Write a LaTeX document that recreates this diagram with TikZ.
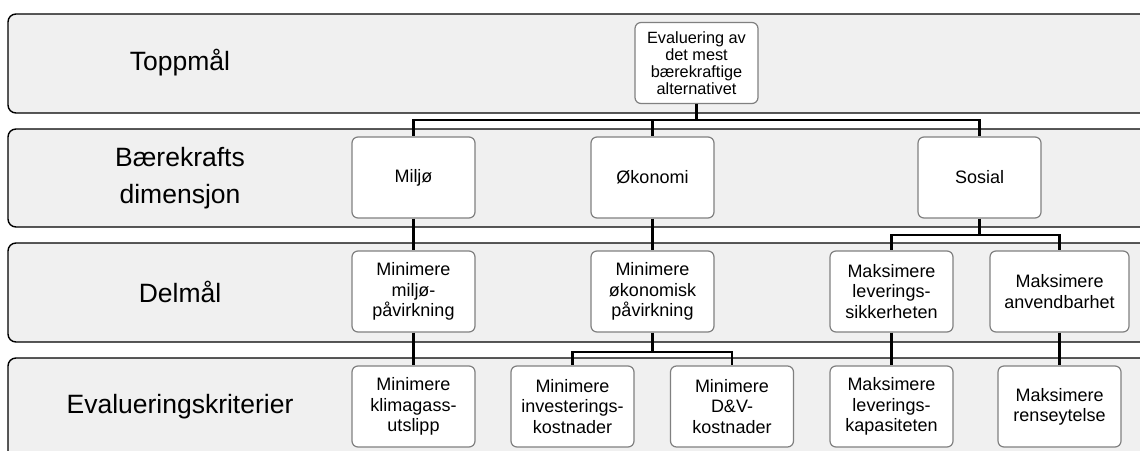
\documentclass[tikz,border=0pt]{standalone}
\usepackage{fontspec}
\setmainfont{Liberation Sans}
\usepackage{xcolor}
\usepackage{tikz}
\usetikzlibrary{
  positioning,
  calc
}
\definecolor{BandGray}{RGB}{240, 240, 240}
\definecolor{BoxLine}{RGB}{128, 128, 128}
\tikzset{
    band/.style={draw=black, line width=1.4pt, fill=BandGray, rounded corners=8pt},
    levellabel/.style={font=\fontsize{26.5}{37}\selectfont, align=center},
    critbox/.style={draw=BoxLine, line width=1.2pt, fill=white, rounded corners=6pt,
        minimum width=123pt, minimum height=81pt, inner sep=2pt, align=center,
        font=\fontsize{18}{20.2}\selectfont},
    conn/.style={draw=black, line width=2.6pt}
}

\begin{document}
\begin{tikzpicture}[x=1pt, y=-1pt]
    \useasboundingbox (0,0) rectangle (1140,450);
    \clip (0,0) rectangle (1140,450);
    % levels
    \draw[band] (8,14) rectangle (1180,113);
    \draw[band] (8,129) rectangle (1180,227);
    \draw[band] (8,243) rectangle (1180,342);
    \draw[band] (8,358) rectangle (1180,480);
    \node[levellabel] (lvlTop) at (180,63) {Toppmål};
    \node[levellabel] (lvlDim) at (180,178) {Bærekrafts\\dimensjon};
    \node[levellabel] (lvlSub) at (180,292) {Delmål};
    \node[levellabel] (lvlCrit) at (180,407) {Evalueringskriterier};
    % boxes
    \node[critbox, font=\fontsize{16.3}{16.8}\selectfont] (top) at (696.5,63) {Evaluering av\\det mest\\bærekraftige\\alternativet};
    \node[critbox] (miljo) at (413.5,177.5) {Miljø};
    \node[critbox] (okonomi) at (652.5,177.5) {Økonomi};
    \node[critbox] (sosial) at (979.5,177.5) {Sosial};
    \node[critbox] (minMiljo) at (413.5,291.5) {Minimere\\miljø-\\påvirkning};
    \node[critbox] (minOko) at (652.5,291.5) {Minimere\\økonomisk\\påvirkning};
    \node[critbox] (maksSikker) at (891.5,291.5) {Maksimere\\leverings-\\sikkerheten};
    \node[critbox, minimum width=139pt] (maksAnv) at (1059.5,291.5) {Maksimere\\anvendbarhet};
    \node[critbox] (klima) at (413.5,406.5) {Minimere\\klimagass-\\utslipp};
    \node[critbox] (invest) at (572.5,406.5) {Minimere\\investerings-\\kostnader};
    \node[critbox] (drift) at (732,406.5) {Minimere\\D\&V-\\kostnader};
    \node[critbox] (kapasitet) at (891.5,406.5) {Maksimere\\leverings-\\kapasiteten};
    \node[critbox] (rense) at (1059.5,406.5) {Maksimere\\renseytelse};
    % connectors
    \coordinate (jTop) at (696.5,120);
    \coordinate (jSos) at (979.5,235);
    \coordinate (jOko) at (652.5,352);
    \draw[conn] (top.south) -- (jTop);
    \draw[conn] (jTop) -| (miljo.north);
    \draw[conn] (jTop) -| (okonomi.north);
    \draw[conn] (jTop) -| (sosial.north);
    \draw[conn] (miljo.south) -- (minMiljo.north);
    \draw[conn] (okonomi.south) -- (minOko.north);
    \draw[conn] (sosial.south) -- (jSos);
    \draw[conn] (jSos) -| (maksSikker.north);
    \draw[conn] (jSos) -| (maksAnv.north);
    \draw[conn] (minMiljo.south) -- (klima.north);
    \draw[conn] (minOko.south) -- (jOko);
    \draw[conn] (jOko) -| (invest.north);
    \draw[conn] (jOko) -| (drift.north);
    \draw[conn] (maksSikker.south) -- (kapasitet.north);
    \draw[conn] (maksAnv.south) -- (rense.north);
\end{tikzpicture}
\end{document}
